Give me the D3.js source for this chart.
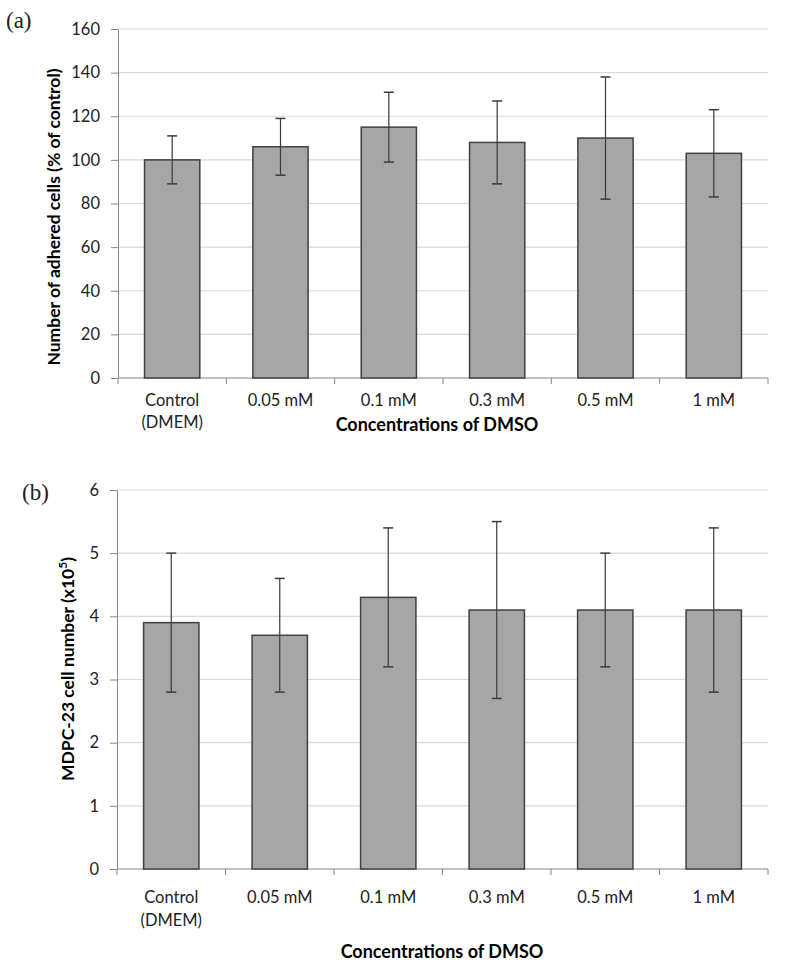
<!DOCTYPE html>
<html><head><meta charset="utf-8">
<script src="https://cdn.jsdelivr.net/npm/d3@7"></script>
<style>body{margin:0;background:#fff}svg{display:block}</style>
</head><body>
<script>
const categories = [["Control","(DMEM)"],["0.05 mM"],["0.1 mM"],["0.3 mM"],["0.5 mM"],["1 mM"]];
const adheredValues = [100,106,115,108,110,103];
const adheredErrors = [11,13,16,19,28,20];
const adheredTicks = [0,20,40,60,80,100,120,140,160];
const cellValues = [3.9,3.7,4.3,4.1,4.1,4.1];
const cellErrors = [1.1,0.9,1.1,1.4,0.9,1.3];
const cellTicks = [0,1,2,3,4,5,6];

const W=791,H=975;
const svg=d3.select("body").append("svg").attr("width",W).attr("height",H);
const FONT="Lato, 'Open Sans', sans-serif";

function panel(o){
  const g=svg.append("g");
  const keys=categories.map((c,i)=>i);
  const x=d3.scaleBand().domain(keys).range([o.x0,o.x1]).paddingInner(0.49).paddingOuter(0.245);
  const y=d3.scaleLinear().domain([0,o.max]).range([o.y0,o.y1]);
  g.selectAll(".grid").data(o.ticks.filter(t=>t>0)).enter().append("line")
    .attr("x1",o.x0).attr("x2",o.x1).attr("y1",d=>y(d)).attr("y2",d=>y(d))
    .attr("stroke","#d9d9d9").attr("stroke-width",1.2);
  const ya=g.append("g").attr("transform",`translate(${o.x0},0)`)
    .call(d3.axisLeft(y).tickValues(o.ticks).tickFormat(d3.format("d")).tickSizeInner(7).tickSizeOuter(0).tickPadding(11));
  ya.select(".domain").attr("stroke","#868686");
  ya.selectAll(".tick line").attr("stroke","#868686");
  ya.selectAll("text").attr("font-family",FONT).attr("font-size",16.5).attr("fill","#222");
  g.append("line").attr("x1",o.x0).attr("x2",o.x1).attr("y1",o.y0).attr("y2",o.y0).attr("stroke","#868686");
  const step=x.step();
  g.selectAll(".xt").data(d3.range(categories.length+1)).enter().append("line")
    .attr("x1",d=>o.x0+d*step).attr("x2",d=>o.x0+d*step).attr("y1",o.y0).attr("y2",o.y0+6)
    .attr("stroke","#868686");
  g.selectAll(".bar").data(o.values).enter().append("rect")
    .attr("x",(d,i)=>x(i)).attr("width",x.bandwidth())
    .attr("y",d=>y(d)).attr("height",d=>y(0)-y(d))
    .attr("fill","#a6a6a6").attr("stroke","#404040").attr("stroke-width",1.5);
  const eb=g.selectAll(".eb").data(o.values).enter().append("g");
  eb.append("line").attr("x1",(d,i)=>x(i)+x.bandwidth()/2).attr("x2",(d,i)=>x(i)+x.bandwidth()/2)
    .attr("y1",(d,i)=>y(d+o.errors[i])).attr("y2",(d,i)=>y(d-o.errors[i]))
    .attr("stroke","#3a3a3a").attr("stroke-width",1.2);
  [1,-1].forEach(s=>{
    eb.append("line").attr("x1",(d,i)=>x(i)+x.bandwidth()/2-5).attr("x2",(d,i)=>x(i)+x.bandwidth()/2+5)
      .attr("y1",(d,i)=>y(d+s*o.errors[i])).attr("y2",(d,i)=>y(d+s*o.errors[i]))
      .attr("stroke","#3a3a3a").attr("stroke-width",1.5);
  });
  categories.forEach((c,i)=>{
    c.forEach((t,j)=>{
      g.append("text").attr("x",x(i)+x.bandwidth()/2).attr("y",o.catY+j*o.catDy)
        .attr("text-anchor","middle").attr("font-family",FONT).attr("font-size",16.5).attr("fill","#222").text(t);
    });
  });
  g.append("text").attr("x",o.xtX).attr("y",o.xtY).attr("text-anchor","middle")
    .attr("font-family",FONT).attr("font-weight","bold").attr("font-size",18).attr("fill","#000").text("Concentrations of DMSO");
  const yt=g.append("text").attr("transform",`translate(${o.ytX},${o.ytY}) rotate(-90)`).attr("text-anchor","middle")
    .attr("font-family",FONT).attr("font-weight","bold").attr("font-size",17.5).attr("fill","#000");
  o.ytitle(yt);
  g.append("text").attr("x",o.lx).attr("y",o.ly).attr("font-family","'Liberation Serif', 'DejaVu Serif', serif")
    .attr("font-size",23).attr("fill","#222").text(o.label);
}

panel({x0:118,x1:768,y0:378,y1:29,max:160,ticks:adheredTicks,values:adheredValues,errors:adheredErrors,
  catY:406,catDy:22,xtX:437,xtY:431,ytX:60,ytY:217,lx:6,ly:28,label:"(a)",
  ytitle:t=>t.text("Number of adhered cells (% of control)")});
panel({x0:117,x1:768,y0:869,y1:490,max:6,ticks:cellTicks,values:cellValues,errors:cellErrors,
  catY:903,catDy:23,xtX:442,xtY:958,ytX:74,ytY:669,lx:22,ly:500,label:"(b)",
  ytitle:t=>{t.append("tspan").text("MDPC-23 cell number (x10");
    t.append("tspan").attr("font-size",12).attr("dy",-7).text("5");
    t.append("tspan").attr("dy",7).text(")");}});
</script>
</body></html>
